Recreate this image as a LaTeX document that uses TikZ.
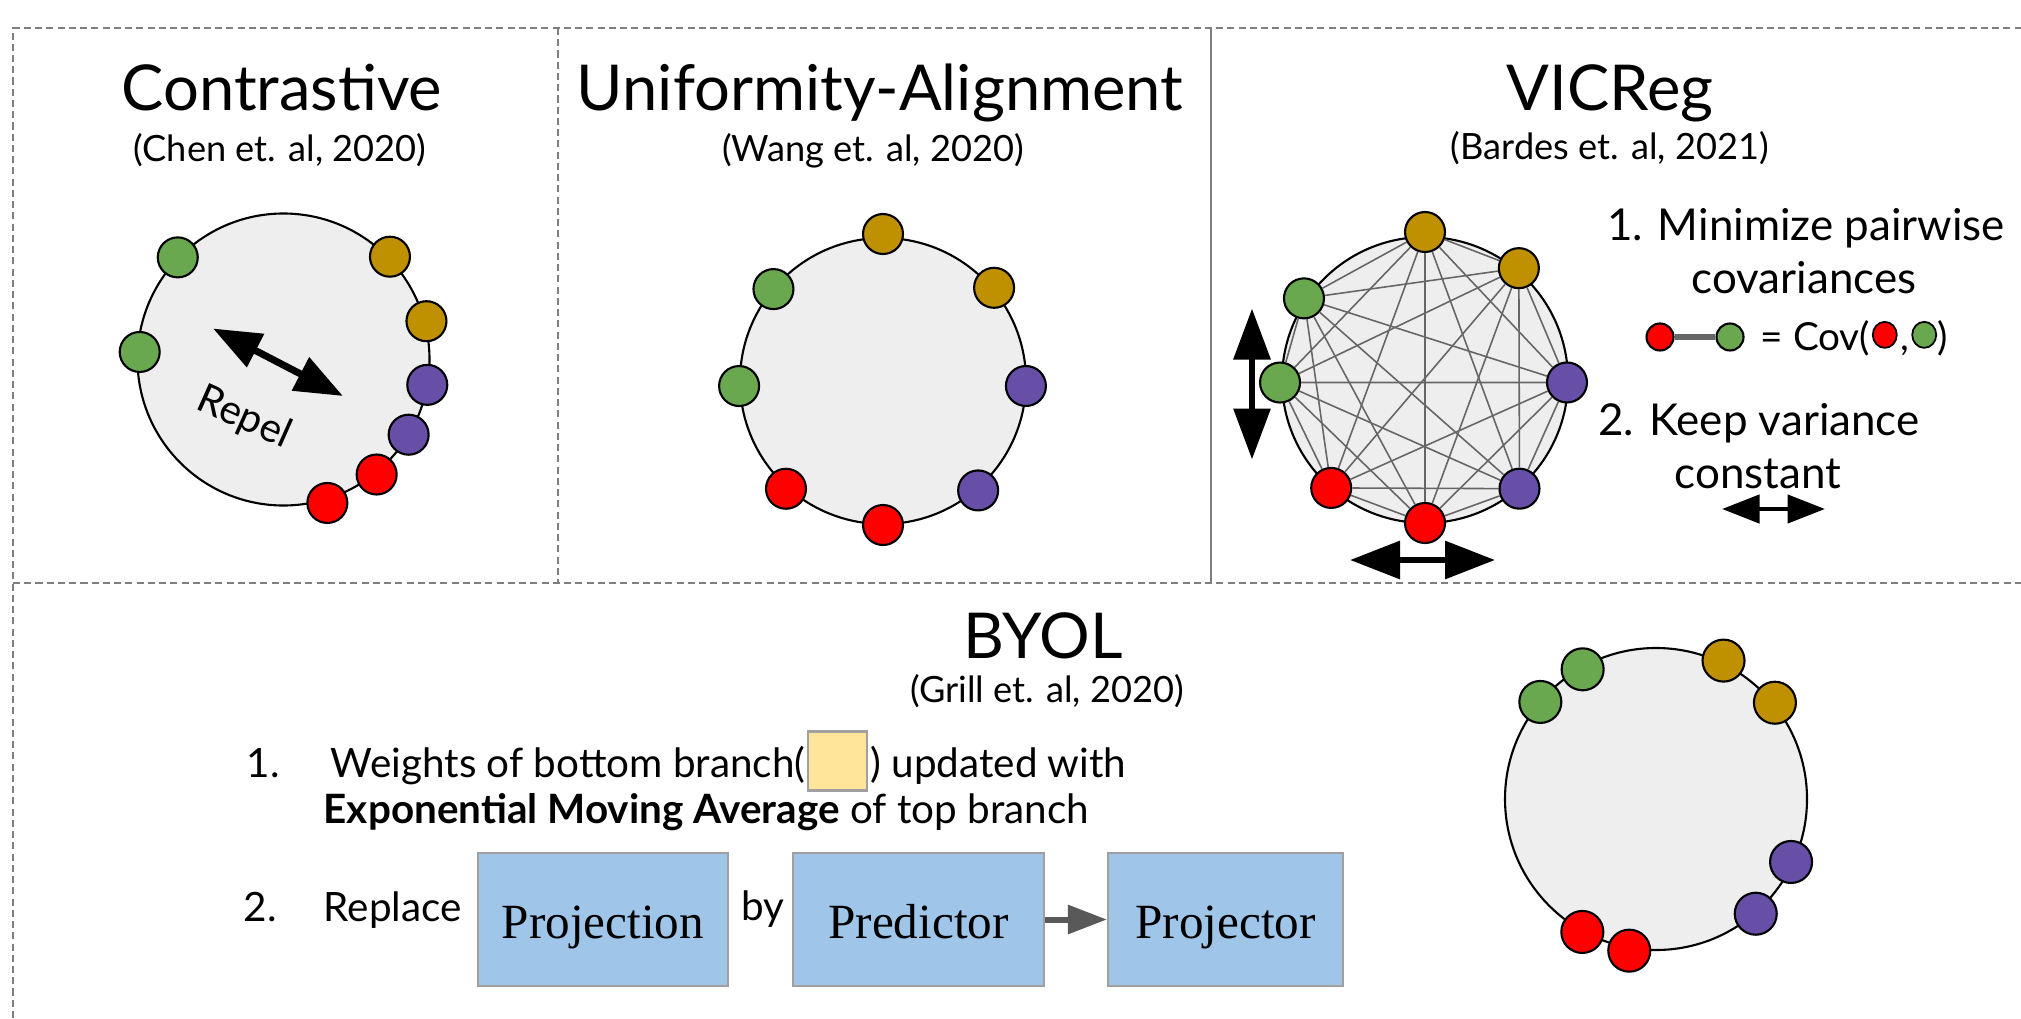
\documentclass[tikz,border=0pt]{standalone}
\usepackage{fontspec}
\setmainfont{Lato}
\newfontfamily\blockfont{Liberation Serif}
\usetikzlibrary{arrows.meta,positioning,shapes.geometric}

\definecolor{framegray}{HTML}{7F7F7F}
\definecolor{spherefill}{HTML}{EEEEEE}
\definecolor{linegray}{HTML}{666666}
\definecolor{boxedge}{HTML}{A0A0A0}
\definecolor{boxblue}{HTML}{9FC5E8}
\definecolor{boxyellow}{HTML}{FFE599}
\definecolor{arrowgray}{HTML}{595959}
\definecolor{dotgreen}{HTML}{6AA84F}
\definecolor{dotgold}{HTML}{BF9000}
\definecolor{dotpurple}{HTML}{674EA7}
\definecolor{dotred}{HTML}{FF0000}

\newcommand{\headsize}{\fontsize{18pt}{21pt}\selectfont}
\newcommand{\citesize}{\fontsize{10.3pt}{12pt}\selectfont}
\newcommand{\repelsize}{\fontsize{11.5pt}{13pt}\selectfont}
\newcommand{\vicsize}{\fontsize{12.5pt}{15pt}\selectfont}
\newcommand{\covsize}{\fontsize{11pt}{13pt}\selectfont}
\newcommand{\listsize}{\fontsize{11.5pt}{14pt}\selectfont}
\newcommand{\blocksize}{\blockfont\fontsize{14pt}{16pt}\selectfont}

\tikzset{
  frameline/.style={draw=framegray, line width=0.6pt, dash pattern=on 2pt off 1.2pt},
  sphere/.style={draw=black, fill=spherefill, line width=0.6pt},
  embdot/.style={circle, draw=black, line width=0.6pt, minimum size=0.4cm, inner sep=0pt},
  smalldot/.style={ellipse, draw=black, line width=0.5pt, minimum width=0.24cm, minimum height=0.26cm, inner sep=0pt},
  covline/.style={draw=linegray, line width=0.45pt},
  word/.style={inner sep=0pt},
  bigarrow/.style={line width=2pt, {Triangle[length=0.48cm,width=0.36cm]}-{Triangle[length=0.48cm,width=0.36cm]}},
  blockbox/.style={draw=boxedge, fill=boxblue, line width=0.6pt, minimum height=1.33cm, inner sep=0pt, font=\blocksize, text height=12pt, text depth=1pt},
  byolarrow/.style={draw=arrowgray, line width=1.7pt, -{Triangle[length=0.39cm,width=0.28cm]}}
}

\begin{document}
\begin{tikzpicture}
\useasboundingbox (0,0) rectangle (20.21,10.18);
% panel frames
\draw[frameline] (0.13,0) -- (0.13,9.90) -- (20.21,9.90);
\draw[frameline] (0.13,4.35) -- (20.21,4.35);
\draw[frameline] (5.58,9.90) -- (5.58,4.35);
\draw[draw=framegray, line width=0.6pt] (12.11,9.90) -- (12.11,4.35);

% Contrastive
\node[word, anchor=base, font=\headsize] (ctitle) at (2.82,9.07) {Contrastive};
\node[word, anchor=base, font=\citesize] (ccite) at (2.80,8.57) {(Chen et. al, 2020)};
\draw[sphere] (2.835,6.585) circle (1.46);
\begin{scope}[shift={(2.835,6.585)}]
\node[embdot, fill=dotgreen] (cg1) at (136:1.47) {};
\node[embdot, fill=dotgreen] (cg2) at (177:1.44) {};
\node[embdot, fill=dotgold] (cy1) at (44:1.48) {};
\node[embdot, fill=dotgold] (cy2) at (15:1.48) {};
\node[embdot, fill=dotpurple] (cp1) at (-10:1.46) {};
\node[embdot, fill=dotpurple] (cp2) at (-31:1.46) {};
\node[embdot, fill=dotred] (cr1) at (-51:1.48) {};
\node[embdot, fill=dotred] (cr2) at (-73:1.50) {};
\end{scope}
\coordinate (rep1) at (2.13,6.895);
\coordinate (rep2) at (3.43,6.22);
\draw[bigarrow] (rep1) -- (rep2);
\node[word, font=\repelsize, rotate=-24] (repel) at (2.44,6.00) {Repel};

% Uniformity-Alignment
\node[word, anchor=base, font=\headsize] (utitle) at (8.80,9.07) {Uniformity-Alignment};
\node[word, anchor=base, font=\citesize] (ucite) at (8.73,8.56) {(Wang et. al, 2020)};
\draw[sphere] (8.83,6.37) circle (1.43);
\begin{scope}[shift={(8.83,6.37)}]
\node[embdot, fill=dotgold] (uy1) at (90:1.47) {};
\node[embdot, fill=dotgold] (uy2) at (40:1.45) {};
\node[embdot, fill=dotpurple] (up1) at (-2:1.43) {};
\node[embdot, fill=dotpurple] (up2) at (-49:1.45) {};
\node[embdot, fill=dotred] (ur1) at (-90:1.44) {};
\node[embdot, fill=dotred] (ur2) at (-132:1.45) {};
\node[embdot, fill=dotgreen] (ug1) at (182:1.44) {};
\node[embdot, fill=dotgreen] (ug2) at (140:1.43) {};
\end{scope}

% VICReg
\node[word, anchor=base, font=\headsize] (vtitle) at (16.10,9.07) {VICReg};
\node[word, anchor=base, font=\citesize] (vcite) at (16.10,8.58) {(Bardes et. al, 2021)};
\draw[sphere] (14.25,6.38) circle (1.43);
\begin{scope}[shift={(14.25,6.38)}]
\node[embdot, fill=dotgold] (v1) at (90:1.48) {};
\node[embdot, fill=dotgold] (v2) at (50:1.46) {};
\node[embdot, fill=dotpurple] (v3) at (-1:1.42) {};
\node[embdot, fill=dotpurple] (v4) at (-49:1.44) {};
\node[embdot, fill=dotred] (v5) at (-90:1.43) {};
\node[embdot, fill=dotred] (v6) at (-131:1.43) {};
\node[embdot, fill=dotgreen] (v7) at (181:1.45) {};
\node[embdot, fill=dotgreen] (v8) at (146:1.46) {};
\end{scope}
\draw[covline] (v1)--(v2) (v1)--(v3) (v1)--(v4) (v1)--(v5) (v1)--(v6) (v1)--(v7) (v1)--(v8);
\draw[covline] (v2)--(v3) (v2)--(v4) (v2)--(v5) (v2)--(v6) (v2)--(v7) (v2)--(v8);
\draw[covline] (v3)--(v4) (v3)--(v5) (v3)--(v6) (v3)--(v7) (v3)--(v8);
\draw[covline] (v4)--(v5) (v4)--(v6) (v4)--(v7) (v4)--(v8);
\draw[covline] (v5)--(v6) (v5)--(v7) (v5)--(v8);
\draw[covline] (v6)--(v7) (v6)--(v8);
\draw[covline] (v7)--(v8);
\coordinate (varup) at (12.52,7.095);
\coordinate (vardn) at (12.52,5.585);
\draw[line width=1.8pt, {Triangle[length=0.51cm,width=0.36cm]}-{Triangle[length=0.51cm,width=0.36cm]}] (varup) -- (vardn);
\coordinate (varl) at (13.50,4.58);
\coordinate (varr) at (14.95,4.58);
\draw[line width=1.8pt, {Triangle[length=0.50cm,width=0.37cm]}-{Triangle[length=0.50cm,width=0.37cm]}] (varl) -- (varr);
\node[word, anchor=base, font=\vicsize] (rule1a) at (18.06,7.78) {1. Minimize pairwise};
\node[word, anchor=base, font=\vicsize] (rule1b) at (18.04,7.25) {covariances};
\node[embdot, minimum size=0.27cm, fill=dotred] (lred) at (16.60,6.81) {};
\node[embdot, minimum size=0.27cm, fill=dotgreen] (lgreen) at (17.30,6.81) {};
\draw[draw=linegray, line width=1.5pt] (lred) -- (lgreen);
\node[word, anchor=base west, font=\covsize] (covtxt) at (17.60,6.68) {= Cov(};
\node[smalldot, fill=dotred, right=0.3pt of covtxt, yshift=0.03cm] (covr) {};
\node[word, anchor=base west, font=\covsize, xshift=0.5pt] (covsep) at (covr.east |- covtxt.base) {,};
\node[smalldot, fill=dotgreen, anchor=west, xshift=0.5pt] (covg) at (covsep.east |- covr.west) {};
\node[word, anchor=base west, font=\covsize] (covend) at (covg.east |- covtxt.base) {)};
\node[word, anchor=base, font=\vicsize] (rule2a) at (17.59,5.83) {2. Keep variance};
\node[word, anchor=base, font=\vicsize] (rule2b) at (17.58,5.30) {constant};
\coordinate (keepl) at (17.22,5.09);
\coordinate (keepr) at (18.25,5.09);
\draw[line width=1.3pt, {Triangle[length=0.375cm,width=0.28cm]}-{Triangle[length=0.375cm,width=0.28cm]}] (keepl) -- (keepr);

% BYOL
\node[word, anchor=base, font=\headsize] (btitle) at (10.43,3.60) {BYOL};
\node[word, anchor=base, font=\citesize] (bcite) at (10.47,3.16) {(Grill et. al, 2020)};
\node[word, anchor=base west, font=\listsize] (num1) at (2.46,2.41) {1.};
\node[word, anchor=base west, font=\listsize] (ema1) at (3.30,2.41) {Weights of bottom branch(};
\node[draw=boxedge, fill=boxyellow, line width=0.6pt, minimum width=0.59cm, minimum height=0.59cm, inner sep=0pt, right=0.2pt of ema1, yshift=0.04cm] (target) {};
\node[word, anchor=base west, font=\listsize, xshift=0.5pt] (ema2) at (target.east |- ema1.base) {) updated with};
\node[word, anchor=base west, font=\listsize] (ema3) at (3.23,1.95) {\textbf{Exponential Moving Average} of top branch};
\node[word, anchor=base west, font=\listsize] (num2) at (2.43,0.97) {2.};
\node[word, anchor=base west, font=\listsize] (repl) at (3.23,0.97) {Replace};
\node[blockbox, minimum width=2.50cm] (projn) at (6.03,0.985) {Projection};
\node[word, anchor=base west, font=\listsize] (by) at (7.41,0.98) {by};
\node[blockbox, minimum width=2.51cm] (pred) at (9.185,0.985) {Predictor};
\node[blockbox, minimum width=2.35cm] (projr) at (12.255,0.985) {Projector};
\draw[byolarrow] (pred) -- (projr);
\draw[sphere] (16.56,2.19) circle (1.51);
\begin{scope}[shift={(16.56,2.19)}]
\node[embdot, minimum size=0.42cm, fill=dotgreen] (bg1) at (119.5:1.49) {};
\node[embdot, minimum size=0.42cm, fill=dotgreen] (bg2) at (140:1.51) {};
\node[embdot, minimum size=0.42cm, fill=dotgold] (by1) at (64:1.54) {};
\node[embdot, minimum size=0.42cm, fill=dotgold] (by2) at (39:1.53) {};
\node[embdot, minimum size=0.42cm, fill=dotpurple] (bp1) at (-25:1.49) {};
\node[embdot, minimum size=0.42cm, fill=dotpurple] (bp2) at (-49:1.52) {};
\node[embdot, minimum size=0.42cm, fill=dotred] (br1) at (-119:1.52) {};
\node[embdot, minimum size=0.42cm, fill=dotred] (br2) at (-100:1.54) {};
\end{scope}
\end{tikzpicture}
\end{document}
